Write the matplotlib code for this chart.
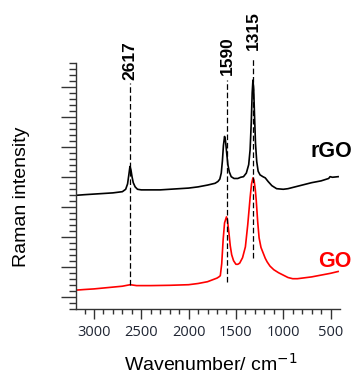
import matplotlib
matplotlib.use("Agg")
import matplotlib.pyplot as plt
from matplotlib.ticker import FixedLocator, NullFormatter

# ---- data ----
rgo_x = [3185, 3100, 3000, 2900, 2800, 2700, 2665, 2645, 2630, 2620, 2610, 2598, 2585, 2565, 2540,
         2500, 2400, 2300, 2200, 2100, 2000, 1900, 1800, 1720, 1690, 1670, 1655, 1643, 1632, 1620,
         1610, 1598, 1585, 1570, 1550, 1520, 1480, 1450, 1420, 1390, 1365, 1350, 1338, 1328, 1320,
         1312, 1303, 1293, 1280, 1265, 1245, 1215, 1190, 1160, 1120, 1070, 1000, 950, 900, 800,
         700, 600, 520, 505, 480, 420]
rgo_y = [18.9, 19.0, 19.1, 19.2, 19.3, 19.5, 19.9, 20.8, 22.5, 23.7, 23.2, 22.0, 21.0, 20.3, 19.9,
         19.8, 19.8, 19.8, 19.9, 20.0, 20.1, 20.3, 20.6, 20.9, 21.2, 21.6, 22.6, 24.6, 27.2, 28.7,
         28.0, 26.0, 24.0, 22.8, 22.0, 21.7, 21.7, 21.9, 22.0, 22.6, 24.0, 26.5, 31.0, 36.0, 38.1,
         36.5, 32.0, 27.5, 24.5, 22.9, 22.3, 22.0, 21.8, 21.2, 20.5, 20.0, 19.9, 20.0, 20.2, 20.6,
         21.0, 21.3, 21.7, 22.0, 21.9, 22.0]

go_x = [3185, 3100, 3000, 2800, 2700, 2617, 2550, 2400, 2200, 2000, 1900, 1800, 1750, 1700, 1680,
        1665, 1650, 1635, 1620, 1600, 1590, 1575, 1560, 1545, 1525, 1500, 1480, 1460, 1430, 1400,
        1375, 1350, 1335, 1320, 1308, 1295, 1285, 1270, 1255, 1235, 1210, 1190, 1170, 1140, 1100,
        1050, 1000, 950, 900, 850, 800, 700, 600, 500, 420]
go_y = [3.1, 3.2, 3.3, 3.6, 3.75, 4.0, 3.85, 3.85, 3.9, 4.0, 4.2, 4.5, 4.8, 5.1, 5.3,
        5.5, 7.5, 11.5, 14.3, 15.3, 14.8, 12.8, 10.5, 9.0, 8.0, 7.4, 7.4, 7.6, 8.5, 10.3,
        14.0, 18.5, 20.8, 21.8, 21.4, 19.8, 18.0, 14.5, 11.8, 10.2, 9.2, 8.4, 7.8, 7.1, 6.5,
        6.0, 5.6, 5.2, 5.0, 5.0, 5.1, 5.3, 5.6, 5.9, 6.2]

peak_pos = [2617, 1590, 1315]
peak_labels = ["2617", "1590", "1315"]
line_bottom = [3.95, 4.45, 8.45]
line_top = [37.6, 38.1, 41.8]
label_base = [38.1, 38.95, 43.1]

x_major = [3000, 2500, 2000, 1500, 1000, 500]
x_minor = [3100, 2900, 2800, 2700, 2600, 2400, 2300, 2200, 2100, 1900, 1800, 1700, 1600,
           1400, 1300, 1200, 1100, 900, 800, 700, 600]
y_major = [2, 7, 12, 17, 22, 27, 32, 37]
y_minor = list(range(0, 42))

# ---- figure ----
fig = plt.figure(figsize=(3.53, 3.78), dpi=100)
ax = fig.add_axes([0.2153, 0.1833, 0.7479, 0.8034])

ax.plot(rgo_x, rgo_y, color="black", lw=1.2)
ax.plot(go_x, go_y, color="#ff0000", lw=1.2)

for xp, lab, yb, yt, ylab in zip(peak_pos, peak_labels, line_bottom, line_top, label_base):
    ax.plot([xp, xp], [yb, yt], color="black", lw=0.9, dashes=(4.5, 2.2), clip_on=False)
    ax.text(xp, ylab, lab, rotation=90, ha="center", va="bottom",
            fontsize=12.5, fontweight="bold", family="Liberation Sans", color="black")

ax.set_xlim(3190, 400)
ax.set_ylim(0, 50.6)

for s in ["top", "right"]:
    ax.spines[s].set_visible(False)
for s in ["left", "bottom"]:
    ax.spines[s].set_color("#333333")
    ax.spines[s].set_linewidth(1.0)
ax.spines["left"].set_bounds(0, 41)

ax.xaxis.set_major_locator(FixedLocator(x_major))
ax.xaxis.set_minor_locator(FixedLocator(x_minor))
ax.set_xticklabels([str(v) for v in x_major])
ax.yaxis.set_major_locator(FixedLocator(y_major))
ax.yaxis.set_minor_locator(FixedLocator(y_minor))
ax.yaxis.set_major_formatter(NullFormatter())

ax.tick_params(axis="x", which="major", direction="out", length=7.2, width=1.0,
               color="#333333", pad=4.5, labelsize=10.5, labelcolor="#1f2533")
ax.tick_params(axis="x", which="minor", direction="out", length=3.4, width=1.0, color="#333333")
ax.tick_params(axis="y", which="major", direction="out", length=10.8, width=1.0, color="#333333")
ax.tick_params(axis="y", which="minor", direction="out", length=5.4, width=1.0, color="#333333")
for t in ax.get_xticklabels():
    t.set_family("Open Sans")

fig.text(0.598, 0.02, "Wavenumber/ cm$^{-1}$", ha="center", va="baseline",
         fontsize=14, family="Liberation Sans", color="black")
fig.text(0.060, 0.479, "Raman intensity", rotation=90, ha="center", va="center",
         fontsize=14, family="Liberation Sans", color="black")

fig.text(0.997, 0.5855, "rGO", ha="right", va="baseline", fontsize=15.5,
         fontweight="bold", family="Liberation Sans", color="black")
fig.text(0.997, 0.2944, "GO", ha="right", va="baseline", fontsize=15.5,
         fontweight="bold", family="Liberation Sans", color="#ff0000")

fig.savefig("out.png", dpi=100)
